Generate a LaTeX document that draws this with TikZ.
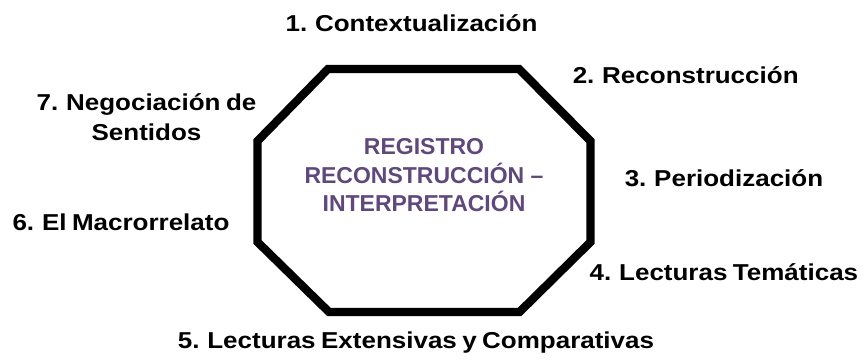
\documentclass[tikz,border=0pt]{standalone}
\usepackage{fontspec}
\setmainfont{Liberation Sans}
\newfontfamily\lblfont{Liberation Sans}[FakeStretch=1.13, WordSpace=0.75]
\definecolor{regpurple}{RGB}{95,73,123}
\begin{document}
\begin{tikzpicture}[x=1pt,y=-1pt,
  lbl/.style={font=\lblfont\bfseries\fontsize{23}{30}\selectfont, inner sep=0pt},
  ctr/.style={font=\bfseries\fontsize{23}{28.4}\selectfont, text=regpurple, align=center, inner sep=0pt},
  octo/.style={draw=black, line width=8.3pt, line join=miter}]
\useasboundingbox[fill=white] (0,0) rectangle (865,360);
\coordinate (o1) at (257.5,141);
\coordinate (o2) at (328,69);
\coordinate (o3) at (519,69);
\coordinate (o4) at (590.5,141);
\coordinate (o5) at (590.5,242);
\coordinate (o6) at (519.5,312);
\coordinate (o7) at (329,312);
\coordinate (o8) at (257.5,242);
\draw[octo] (o1) -- (o2) -- (o3) -- (o4) -- (o5) -- (o6) -- (o7) -- (o8) -- cycle;
\node[ctr, anchor=base] (center) at (424,211.7) {REGISTRO\\RECONSTRUCCIÓN –\\INTERPRETACIÓN};
\node[lbl, anchor=base] (l1) at (411.5,31.7) {1. Contextualización};
\node[lbl, anchor=base] (l2) at (685.7,83) {2. Reconstrucción};
\node[lbl, anchor=base] (l3) at (724,186.7) {3. Periodización};
\node[lbl, anchor=base west] (l4) at (589.5,280) {4. Lecturas Temáticas};
\node[lbl, anchor=base] (l5) at (416,348.3) {5. Lecturas Extensivas y Comparativas};
\node[lbl, anchor=base] (l6) at (121,230) {6. El Macrorrelato};
\node[lbl, anchor=base, align=center] (l7) at (146.5,140) {7. Negociación de\\Sentidos};
\end{tikzpicture}
\end{document}
